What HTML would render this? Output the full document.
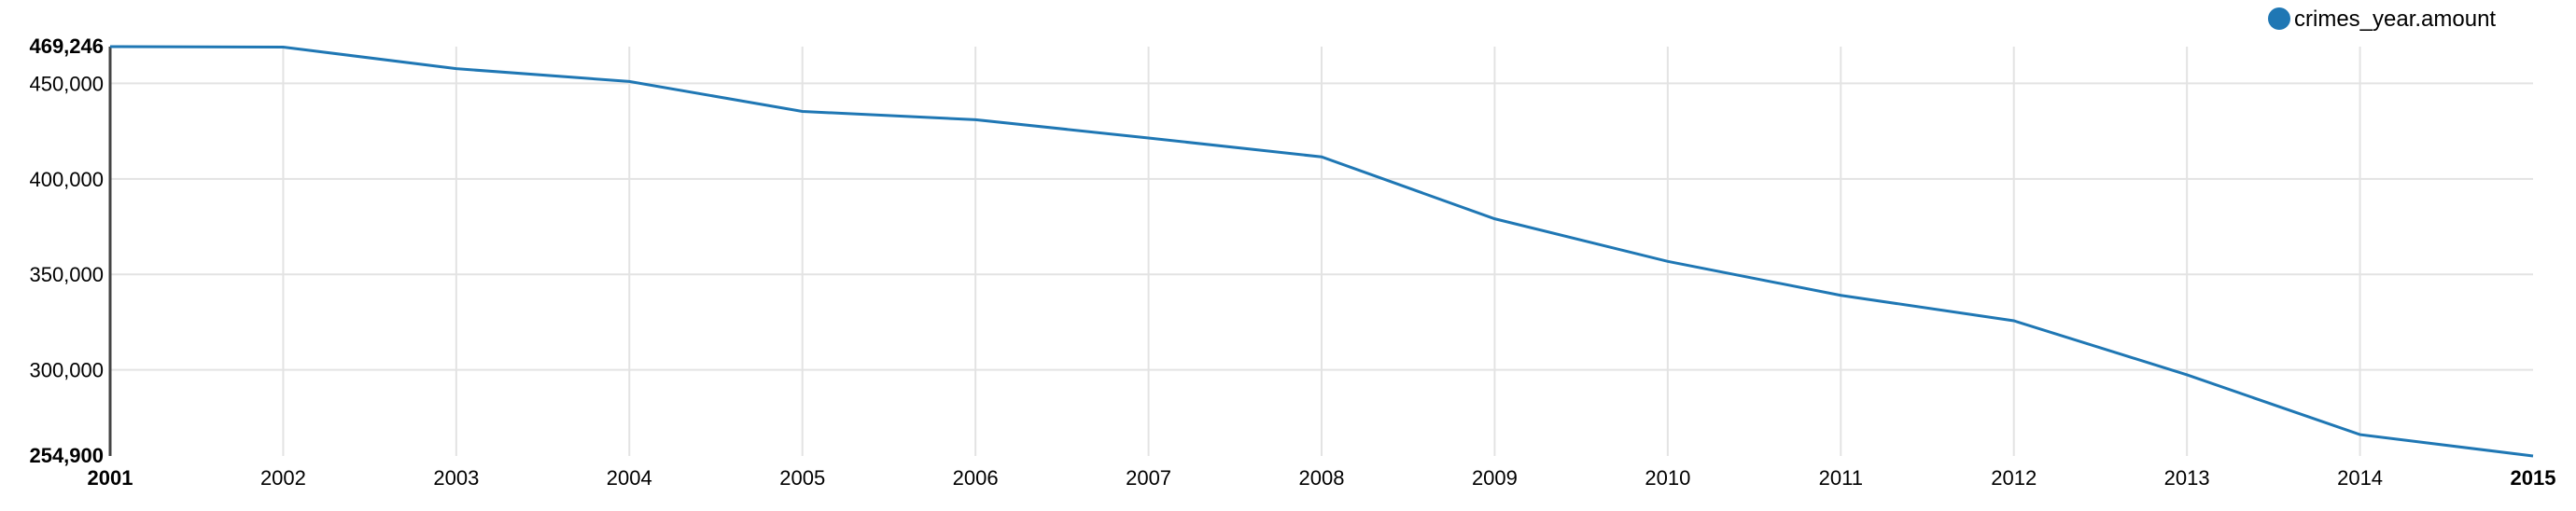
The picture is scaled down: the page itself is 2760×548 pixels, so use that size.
<!DOCTYPE html>
<html><head><meta charset="utf-8"><style>
html,body{margin:0;padding:0;background:#fff;}
svg{display:block;font-family:"Liberation Sans",Arial,sans-serif;}
</style></head><body>
<svg id="chart" width="2760" height="548">
<g id="grid"></g>
<g id="axes"></g>
<g id="series"></g>
<g>
<circle cx="2442" cy="20" r="12" fill="#1f77b4"></circle>
<text x="2458" y="28" font-size="24" fill="#000">crimes_year.amount</text>
</g>
</svg>
<script>
const years = [2001,2002,2003,2004,2005,2006,2007,2008,2009,2010,2011,2012,2013,2014,2015];
const amounts = [469246,469000,457700,451000,435300,431000,421400,411500,379100,356800,339000,325700,297400,266100,254900];
const yTicks = [300000,350000,400000,450000];
const yMin = 254900, yMax = 469246;
const L=118,R=2714,T=50,B=489;
const NS="http://www.w3.org/2000/svg";
function x(yr){return L+(yr-years[0])/(years[years.length-1]-years[0])*(R-L);}
function y(v){return B-(v-yMin)/(yMax-yMin)*(B-T);}
function mk(tag,attrs,parent){const e=document.createElementNS(NS,tag);for(const k in attrs)e.setAttribute(k,attrs[k]);parent.appendChild(e);return e;}
const grid=document.getElementById('grid'),axes=document.getElementById('axes'),series=document.getElementById('series');
const fmt=v=>v.toLocaleString('en-US');
yTicks.forEach(v=>{
  const g=mk('line',{x1:L,x2:R,y1:y(v),y2:y(v),stroke:'#e3e3e3','stroke-width':2},grid);
  
  
  const t=mk('text',{x:L-7,y:y(v)+8,'text-anchor':'end','font-size':22,fill:'#000'},axes);
  t.textContent=fmt(v);
  
  
});
[yMin,yMax].forEach(v=>{
  const t=mk('text',{x:L-7,y:y(v)+7,'text-anchor':'end','font-size':22,'font-weight':'bold',fill:'#000'},axes);
  t.textContent=fmt(v);
  
  
});
years.forEach((yr,i)=>{
  if(i>0&&i<years.length-1){
    const g=mk('line',{x1:x(yr),x2:x(yr),y1:T,y2:B,stroke:'#e3e3e3','stroke-width':2},grid);
    
    
  }
  const edge=(i===0||i===years.length-1);
  const t=mk('text',{x:x(yr),y:520,'text-anchor':'middle','font-size':22,fill:'#000','font-weight':edge?'bold':'normal'},axes);
  t.textContent=yr;
  
  
});
const ax=mk('line',{x1:L,x2:L,y1:T,y2:B,stroke:'#444','stroke-width':3},axes);


const p=mk('polyline',{points:years.map((yr,i)=>x(yr)+','+y(amounts[i])).join(' '),fill:'none',stroke:'#1f77b4','stroke-width':3},series);


</script>
</body></html>
